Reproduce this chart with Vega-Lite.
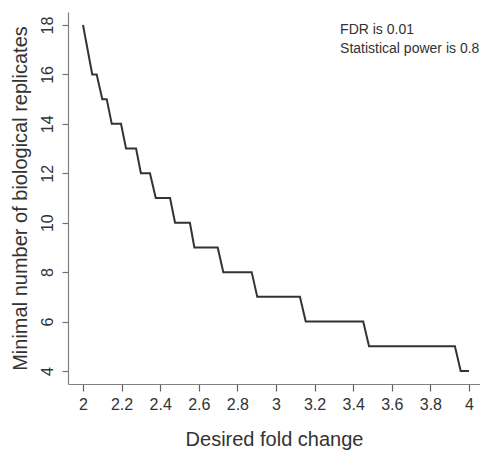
{
  "$schema": "https://vega.github.io/schema/vega-lite/v6.json",
  "width": 412,
  "height": 372,
  "autosize": {"type": "none"},
  "padding": {"left": 68, "top": 12, "right": 0, "bottom": 67},
  "background": "white",
  "config": {
    "view": {"stroke": null},
    "font": "Liberation Sans",
    "axis": {"grid": false, "domainColor": "#808080", "tickColor": "#707070", "tickWidth": 1.2, "domainWidth": 1.2, "labelColor": "#333333", "titleColor": "#333333", "labelFont": "Liberation Sans", "titleFont": "Liberation Sans", "titleFontWeight": "normal"},
    "axisX": {"ticks": true, "tickSize": 7, "tickColor": "#606060"}
  },
  "data": {"values": [
    {"fold": 2.0, "reps": 18},
    {"fold": 2.048, "reps": 16},
    {"fold": 2.071, "reps": 16},
    {"fold": 2.1, "reps": 15},
    {"fold": 2.123, "reps": 15},
    {"fold": 2.149, "reps": 14},
    {"fold": 2.197, "reps": 14},
    {"fold": 2.223, "reps": 13},
    {"fold": 2.275, "reps": 13},
    {"fold": 2.3, "reps": 12},
    {"fold": 2.347, "reps": 12},
    {"fold": 2.377, "reps": 11},
    {"fold": 2.451, "reps": 11},
    {"fold": 2.477, "reps": 10},
    {"fold": 2.554, "reps": 10},
    {"fold": 2.577, "reps": 9},
    {"fold": 2.698, "reps": 9},
    {"fold": 2.727, "reps": 8},
    {"fold": 2.874, "reps": 8},
    {"fold": 2.903, "reps": 7},
    {"fold": 3.124, "reps": 7},
    {"fold": 3.154, "reps": 6},
    {"fold": 3.452, "reps": 6},
    {"fold": 3.482, "reps": 5},
    {"fold": 3.927, "reps": 5},
    {"fold": 3.957, "reps": 4},
    {"fold": 4.0, "reps": 4}
  ]},
  "layer": [
    {
      "mark": {"type": "line", "color": "#333333", "strokeWidth": 2, "strokeJoin": "miter"},
      "encoding": {
        "x": {"field": "fold", "type": "quantitative", "sort": null,
          "scale": {"domain": [1.9223, 4.057], "nice": false, "zero": false},
          "axis": {"orient": "bottom", "domain": true, "ticks": true, "labelFontSize": 16, "labelPadding": 5, "labelOverlap": false, "labelFlush": false,
            "values": [2.0, 2.05, 2.1, 2.15, 2.2, 2.25, 2.3, 2.35, 2.4, 2.45, 2.5, 2.55, 2.6, 2.65, 2.7, 2.75, 2.8, 2.85, 2.9, 2.95, 3.0, 3.05, 3.1, 3.15, 3.2, 3.25, 3.3, 3.35, 3.4, 3.45, 3.5, 3.55, 3.6, 3.65, 3.7, 3.75, 3.8, 3.85, 3.9, 3.95, 4.0],
            "labelExpr": "abs(datum.value*5 - round(datum.value*5)) < 0.001 ? format(datum.value, '~g') : ''",
            "title": "Desired fold change", "titleFontSize": 20, "titlePadding": 17}},
        "y": {"field": "reps", "type": "quantitative",
          "scale": {"domain": [3.474, 18.526], "nice": false, "zero": false},
          "axis": {"values": [4, 6, 8, 10, 12, 14, 16, 18], "labelAngle": -90, "labelFontSize": 16, "tickSize": 6, "labelPadding": 7,
            "title": "Minimal number of biological replicates", "titleFontSize": 20, "titlePadding": 9}}
      }
    },
    {
      "data": {"values": [{"note": "annotation"}]},
      "mark": {"type": "text", "align": "left", "baseline": "alphabetic", "fontSize": 14, "lineHeight": 19, "color": "#333333", "font": "Liberation Sans"},
      "encoding": {
        "x": {"datum": 3.332, "type": "quantitative"},
        "y": {"datum": 17.656, "type": "quantitative"},
        "text": {"value": ["FDR is 0.01", "Statistical power is 0.8"]}
      }
    }
  ]
}
